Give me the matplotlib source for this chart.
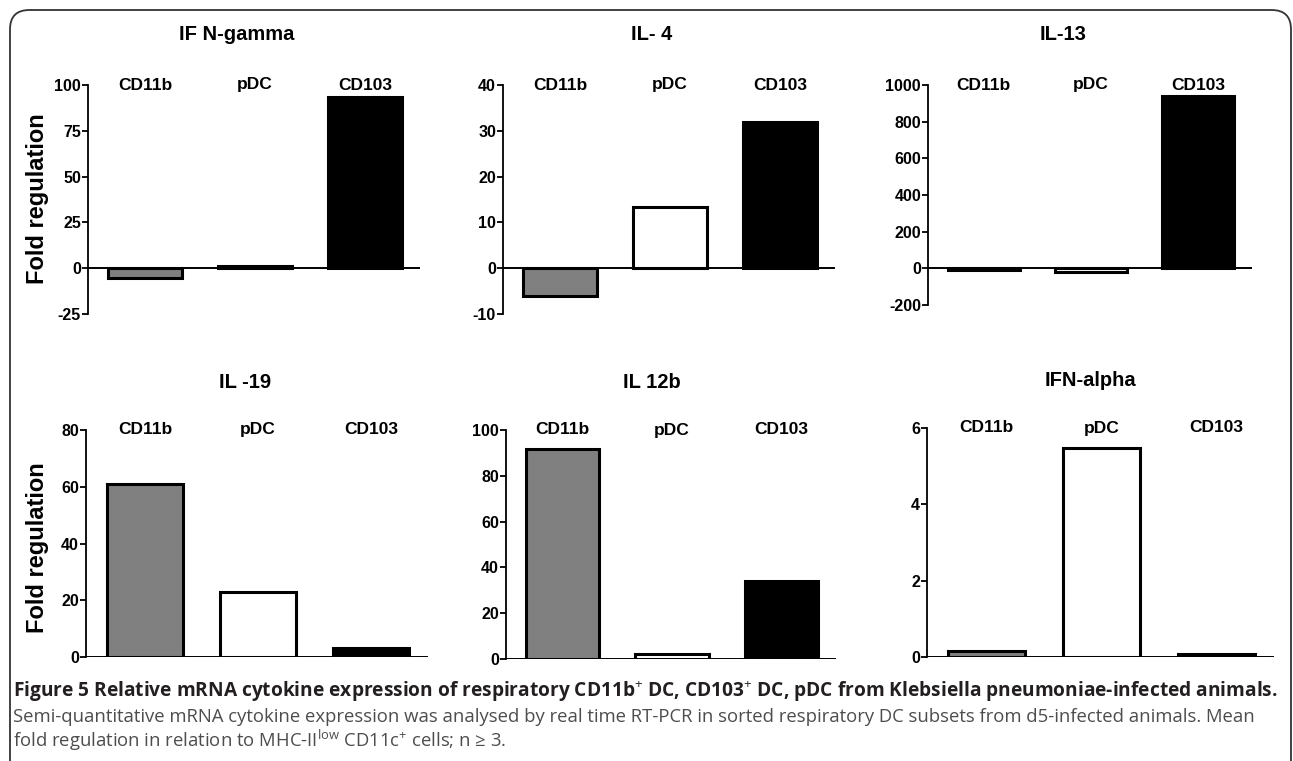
import numpy as np
import matplotlib
matplotlib.use('Agg')
import matplotlib.pyplot as plt
from matplotlib.patches import FancyBboxPatch

W, H = 1293, 761

categories = ['CD11b', 'pDC', 'CD103']
bar_colors = ['#808080', 'white', 'black']

titles = ['IF N-gamma', 'IL- 4', 'IL-13', 'IL -19', 'IL 12b', 'IFN-alpha']
ifn_gamma = [-5.5, 1.0, 93.5]
il4 = [-6.0, 13.3, 32.0]
il13 = [-8.0, -22.0, 940.0]
il19 = [61.0, 23.0, 3.2]
il12b = [91.5, 2.0, 34.0]
ifn_alpha = [0.16, 5.48, 0.09]
values = [ifn_gamma, il4, il13, il19, il12b, ifn_alpha]

ylims = [(-25, 100), (-10, 40), (-200, 1000), (0, 80), (0, 100), (0, 6)]
ysteps = [25, 10, 200, 20, 20, 2]

# panel boxes in pixels: left, right, top, bottom
boxes = [(88, 420, 85, 314), (503, 835, 85, 314), (928, 1252, 85, 305),
         (86, 428, 430, 657), (506, 836, 430, 659), (927, 1274, 428, 657)]
title_pos = [(237, 35), (652, 35), (1063, 35), (245, 382), (652, 383), (1090, 380)]

plt.rcParams['font.family'] = ['Liberation Sans', 'DejaVu Sans']
plt.rcParams['axes.unicode_minus'] = False
plt.rcParams['mathtext.fontset'] = 'custom'
plt.rcParams['mathtext.rm'] = 'Open Sans'
plt.rcParams['mathtext.bf'] = 'Open Sans:bold'

fig = plt.figure(figsize=(W / 100, H / 100), dpi=100)


def px_box(l, r, t, b):
    return [l / W, 1 - b / H, (r - l) / W, (b - t) / H]


x = np.arange(3)
for i in range(6):
    ax = fig.add_axes(px_box(*boxes[i]))
    ax.bar(x, values[i], width=0.67, color=bar_colors, edgecolor='black',
           linewidth=2.2, zorder=3)
    ax.axhline(0, color='black', lw=1.4, zorder=4)
    ax.set_xlim(-0.52, 2.5)
    lo, hi = ylims[i]
    ax.set_ylim(lo, hi)
    ax.set_yticks(np.arange(lo, hi + 1, ysteps[i]))
    ax.set_xticks([])
    for s in ['top', 'right', 'bottom']:
        ax.spines[s].set_visible(False)
    ax.spines['left'].set_linewidth(1.3)
    ax.tick_params(axis='y', direction='out', length=4, width=1.3, pad=1,
                   labelsize=11.5)
    for lab in ax.get_yticklabels():
        lab.set_fontweight('bold')
    for j, c in enumerate(categories):
        ax.text(j, 1.0, c, transform=ax.get_xaxis_transform(), ha='center',
                va='center', fontsize=12.5, fontweight='bold')
    fig.text(title_pos[i][0] / W, 1 - title_pos[i][1] / H, titles[i],
             ha='center', va='center', fontsize=14.5, fontweight='bold')

fig.text(38 / W, 1 - 199 / H, 'Fold regulation', rotation=90, ha='center',
         va='center', fontsize=17, fontweight='bold')
fig.text(38 / W, 1 - 548 / H, 'Fold regulation', rotation=90, ha='center',
         va='center', fontsize=17, fontweight='bold')

# caption
cap_font = ['Open Sans', 'DejaVu Sans']
fig.text(13 / W, 1 - 697 / H,
         'Figure 5 Relative mRNA cytokine expression of respiratory CD11b$^{+}$ DC, '
         'CD103$^{+}$ DC, pDC from Klebsiella pneumoniae-infected animals.',
         family=cap_font, fontweight='bold', fontsize=13.8, color='#231f20',
         va='baseline')
fig.text(13 / W, 1 - 722 / H,
         'Semi-quantitative mRNA cytokine expression was analysed by real time RT-PCR '
         'in sorted respiratory DC subsets from d5-infected animals. Mean',
         family=cap_font, fontsize=13.3, color='#4d4d4d', va='baseline')
fig.text(13 / W, 1 - 747 / H,
         'fold regulation in relation to MHC-II$^{\\mathrm{low}}$ CD11c$^{+}$ cells; n \u2265 3.',
         family=cap_font, fontsize=13.3, color='#4d4d4d', va='baseline')

# rounded frame
frame = FancyBboxPatch((10 / W, -0.1), (1291 - 10) / W, 0.1 + 1 - 10 / H,
                       boxstyle='round,pad=0,rounding_size=0.015',
                       transform=fig.transFigure, fill=False, ec='#333333',
                       lw=1.3, mutation_aspect=W / H)
fig.patches.append(frame)

fig.savefig('out.png', dpi=100)
